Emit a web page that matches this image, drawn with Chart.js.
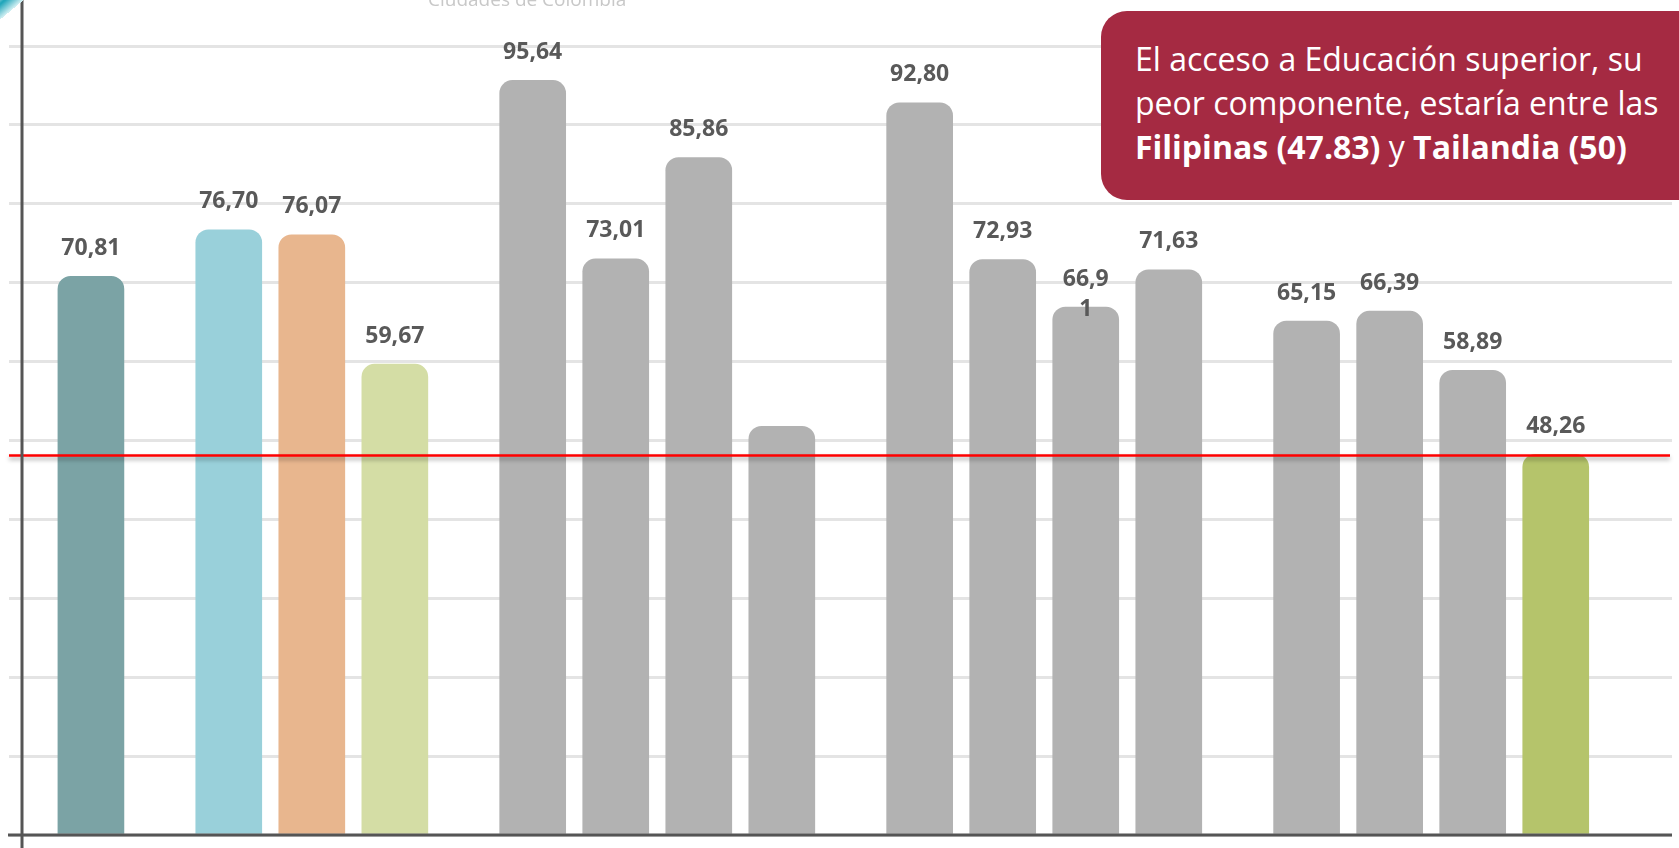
<!DOCTYPE html>
<html>
<head>
<meta charset="utf-8">
<script src="https://cdn.jsdelivr.net/npm/chart.js@4/dist/chart.umd.min.js"></script>
<style>
  html, body { margin: 0; padding: 0; background: #fff; overflow: hidden; }
  #wrap { position: relative; width: 1679px; height: 848px; overflow: hidden; }
  #note {
    position: absolute; left: 1101px; top: 11px; width: 620px; height: 189px;
    background: #A52A42; border-radius: 26px; box-sizing: border-box;
    padding: 26px 0 0 34px; color: #fff;
    font-family: "Open Sans", sans-serif; font-size: 32px; line-height: 44px;
    white-space: nowrap;
  }
  #note b { font-weight: 700; }
  #brand {
    position: absolute; left: 428px; top: -14px; color: #c8c8c8;
    font-family: "Open Sans", sans-serif; font-size: 19px; white-space: nowrap;
  }
  #logo {
    position: absolute; left: -30px; top: -14px; width: 80px; height: 22px;
    transform: rotate(-40deg);
    background: linear-gradient(#ffffff, #1aa3b8 45%, #d6f1f4);
  }
</style>
</head>
<body>
<div id="wrap">
  <canvas id="myChart" width="1679" height="848"></canvas>
  <div id="logo"></div>
  <div id="brand">Ciudades de Colombia</div>
  <div id="note">El acceso a Educación superior, su<br>peor componente, estaría entre las<br><b>Filipinas (47.83)</b> y <b>Tailandia (50)</b></div>
</div>
<script>
/* global Chart */

// group each bar belongs to (gaps are drawn between groups)
const groups = [0, 1, 1, 1, 2, 2, 2, 2, 3, 3, 3, 3, 4, 4, 4, 4];
// bar values
const values = [70.81, 76.70, 76.07, 59.67, 95.64, 73.01, 85.86, 51.8, 92.80, 72.93, 66.91, 71.63, 65.15, 66.39, 58.89, 48.26];
// value labels as printed on the chart
const valueLabels = ['70,81', '76,70', '76,07', '59,67', '95,64', '73,01', '85,86', '', '92,80', '72,93', '66,9\n1', '71,63', '65,15', '66,39', '58,89', '48,26'];
const barColors = ['#7BA3A5', '#99D0DA', '#E8B68E', '#D4DDA5',
  '#B2B2B2', '#B2B2B2', '#B2B2B2', '#B2B2B2', '#B2B2B2', '#B2B2B2', '#B2B2B2', '#B2B2B2',
  '#B2B2B2', '#B2B2B2', '#B2B2B2', '#B5C46B'];
// reference line
const refValue = 48.1;
// y axis ticks (hidden, gridlines only)
const yMin = 0, yMax = 100, yStep = 10;

const GROUP_GAP = 0.66;
const points = values.map((v, i) => ({ x: i + groups[i] * GROUP_GAP, y: v }));

const extras = {
  id: 'extras',
  afterDatasetsDraw(chart) {
    const { ctx, scales } = chart;
    const y = scales.y;
    // value labels
    ctx.save();
    ctx.font = 'bold 23px "Open Sans", sans-serif';
    ctx.fillStyle = '#595959';
    ctx.textAlign = 'center';
    ctx.textBaseline = 'middle';
    chart.getDatasetMeta(0).data.forEach((bar, i) => {
      const lines = valueLabels[i].split('\n');
      lines.forEach((t, k) => ctx.fillText(t, bar.x, bar.y - 28 + k * 30));
    });
    ctx.restore();

    // reference line
    const ry = y.getPixelForValue(refValue);
    ctx.save();
    ctx.strokeStyle = '#FF0000';
    ctx.lineWidth = 2.5;
    ctx.shadowColor = 'rgba(0,0,0,0.35)';
    ctx.shadowOffsetY = 3;
    ctx.shadowBlur = 4;
    ctx.beginPath();
    ctx.moveTo(9, ry);
    ctx.lineTo(1670, ry);
    ctx.stroke();
    ctx.restore();

    // axes
    const y0 = y.getPixelForValue(0);
    ctx.save();
    ctx.strokeStyle = '#555555';
    ctx.lineWidth = 3;
    ctx.beginPath();
    ctx.moveTo(chart.chartArea.left, 0);
    ctx.lineTo(chart.chartArea.left, 848);
    ctx.moveTo(8, y0);
    ctx.lineTo(1672, y0);
    ctx.stroke();
    ctx.restore();
  }
};

const ctx = document.getElementById('myChart').getContext('2d');

const chart = new Chart(ctx, {
  type: 'bar',
  data: {
    datasets: [{
      data: points,
      backgroundColor: barColors,
      borderWidth: 0,
      borderRadius: 13,
      barThickness: 66,
    }]
  },
  options: {
    responsive: false,
    animation: false,
    layout: { padding: { top: 46, bottom: 13, left: 9, right: 7 } },
    plugins: { legend: { display: false }, tooltip: { enabled: false } },
    scales: {
      x: {
        type: 'linear',
        display: false,
        offset: false,
        min: -0.83,
        max: 19.04,
      },
      y: {
        min: yMin,
        max: yMax,
        ticks: { display: false, stepSize: yStep },
        border: { display: false },
        grid: { color: '#E4E4E4', lineWidth: 3, tickLength: 13 },
      }
    }
  },
  plugins: [extras],
});
console.log(chart);
</script>
</body>
</html>
